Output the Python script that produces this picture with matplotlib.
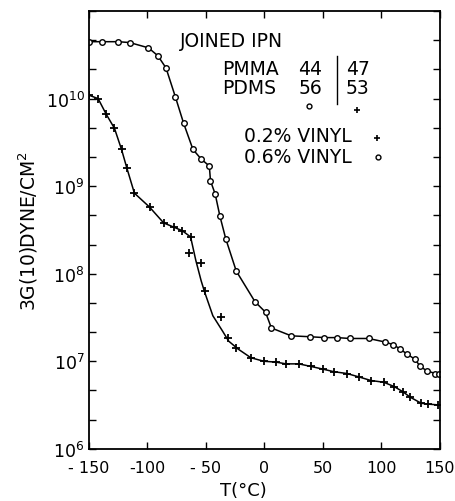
import numpy as np
import matplotlib
matplotlib.use("Agg")
import matplotlib.pyplot as plt

# 0.6% vinyl (circles): temperature (C) and log10 of 3G(10)
t_circ = [-150, -139, -125, -115, -99, -91, -84, -76, -69, -61, -54, -47, -46, -42,
          -38, -33, -24, -8, 1, 6, 23, 39, 51, 62, 73, 89, 103, 110, 116, 122, 129,
          133, 139, 146, 149]
g_circ = [10.65, 10.65, 10.65, 10.64, 10.58, 10.49, 10.35, 10.02, 9.72, 9.42, 9.31,
          9.23, 9.06, 8.91, 8.66, 8.40, 8.03, 7.68, 7.56, 7.38, 7.29, 7.28, 7.27, 7.27,
          7.26, 7.26, 7.22, 7.19, 7.14, 7.08, 7.02, 6.94, 6.89, 6.86, 6.85]

# 0.2% vinyl (crosses)
t_plus = [-150, -142, -135, -128, -122, -117.5, -111, -98, -86, -77, -70, -63, -64.5,
          -54, -51, -37, -31, -24, -11.5, -0.5, 10, 18.5, 29.5, 40, 50, 59.5, 70.5, 81,
          91, 102, 111, 118.5, 124.5, 134, 140, 148]
g_plus = [10.04, 10.0, 9.82, 9.66, 9.42, 9.21, 8.92, 8.76, 8.58, 8.53, 8.49, 8.42, 8.24,
          8.12, 7.80, 7.51, 7.27, 7.15, 7.04, 7.00, 6.99, 6.97, 6.97, 6.94, 6.91, 6.88,
          6.86, 6.82, 6.78, 6.76, 6.71, 6.65, 6.59, 6.52, 6.51, 6.50]

# hand drawn line through the crosses
t_plus_line = [-150, -142, -135, -128, -122, -117.5, -111, -98, -86, -77, -70, -63,
               -58.5, -54, -51, -44, -35.5, -30.5, -22.5, -11.5, -0.5, 10, 18.5, 29.5,
               40, 50, 59.5, 70.5, 81, 91, 102, 111, 118.5, 124.5, 134, 140, 150]
g_plus_line = [10.04, 10.0, 9.82, 9.66, 9.42, 9.21, 8.92, 8.76, 8.58, 8.53, 8.49, 8.42,
               8.15, 7.92, 7.79, 7.52, 7.34, 7.23, 7.14, 7.04, 7.00, 6.99, 6.97, 6.97,
               6.94, 6.91, 6.88, 6.86, 6.82, 6.78, 6.76, 6.71, 6.65, 6.59, 6.52, 6.51, 6.50]

x_ticks = [-150, -100, -50, 0, 50, 100, 150]
x_labels = ["- 150", "-100", "- 50", "0", "50", "100", "150"]
decades = [6, 7, 8, 9, 10, 11]

plt.rcParams['font.family'] = ['DejaVu Sans']

fig = plt.figure(figsize=(4.55, 5.02), dpi=100)
ax = fig.add_axes([0.195, 0.104, 0.772, 0.872])

ax.plot(t_plus_line, 10 ** np.array(g_plus_line), color="black", lw=1.1)
ax.plot(t_plus, 10 ** np.array(g_plus), ls="none", marker="+", ms=5.5, mew=1.3, color="black")
ax.plot(t_circ, 10 ** np.array(g_circ), color="black", lw=1.1, marker="o", ms=4,
        mew=1.0, mfc="white", mec="black")

ax.set_yscale("log")
ax.set_xlim(-150, 150)
ax.set_ylim(1e6, 1e11)

yt = [10 ** (d + k / 3) for d in decades[:-1] for k in range(3)] + [1e11]
yl = []
for d in decades[:-1]:
    yl += ["$10^{%d}$" % d, "", ""]
yl += [""]
ax.set_yticks(yt)
ax.set_yticklabels(yl, fontsize=12.5)
ax.yaxis.set_minor_locator(matplotlib.ticker.NullLocator())
ax.set_xticks(x_ticks)
ax.set_xticklabels(x_labels, fontsize=11.5)
ax.tick_params(direction="in", length=5, width=1, top=True, right=True, pad=3)
ax.tick_params(axis="x", pad=8)

for s in ax.spines.values():
    s.set_linewidth(1.3)

ax.set_ylabel("3G(10)DYNE/CM$^2$", fontsize=13.5, labelpad=4)
ax.set_xlabel("T(°C)", fontsize=13, va="center")
ax.xaxis.set_label_coords(0.44, -0.094)

tk = dict(transform=ax.transAxes, fontsize=13.5, va="center")
ax.text(0.259, 0.932, "JOINED IPN", **tk)
ax.text(0.379, 0.868, "PMMA", **tk)
ax.text(0.63, 0.868, "44", ha="center", **tk)
ax.text(0.766, 0.868, "47", ha="center", **tk)
ax.text(0.379, 0.826, "PDMS", **tk)
ax.text(0.63, 0.826, "56", ha="center", **tk)
ax.text(0.765, 0.826, "53", ha="center", **tk)
ax.plot([0.707, 0.707], [0.788, 0.897], color="black", lw=1.0, transform=ax.transAxes)
ax.plot([0.627], [0.783], marker="o", ms=3.5, mfc="white", mec="black", transform=ax.transAxes)
ax.plot([0.764], [0.774], marker="+", ms=4, mew=1.2, color="black", transform=ax.transAxes)
ax.text(0.749, 0.715, "0.2% VINYL", ha="right", **tk)
ax.text(0.749, 0.667, "0.6% VINYL", ha="right", **tk)
ax.plot([0.820], [0.710], marker="+", ms=4, mew=1.2, color="black", transform=ax.transAxes)
ax.plot([0.823], [0.667], marker="o", ms=3.5, mfc="white", mec="black", transform=ax.transAxes)

fig.savefig("out.png", dpi=100)
